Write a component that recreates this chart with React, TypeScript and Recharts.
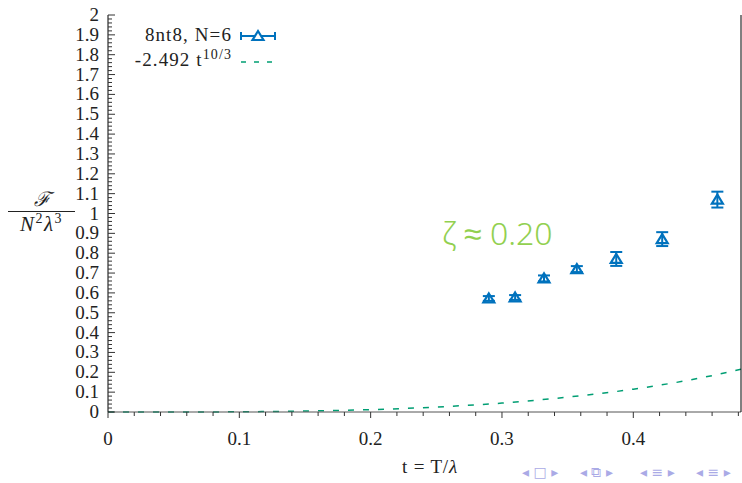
import React from "react";
import { ComposedChart, Scatter, Line, XAxis, YAxis, ErrorBar } from "recharts";

// measured points, 8nt8 N=6
const tValues = [0.29, 0.31, 0.332, 0.357, 0.387, 0.422, 0.464];
const fValues = [0.572, 0.577, 0.673, 0.72, 0.771, 0.871, 1.07];
const fErrors = [0.012, 0.012, 0.015, 0.015, 0.035, 0.035, 0.04];

// dashed fit curve
const tCurve = [0, 0.05, 0.1, 0.15, 0.2, 0.25, 0.3, 0.35, 0.4, 0.45, 0.482];
const fCurve = [0, 0, 0.001, 0.005, 0.012, 0.025, 0.045, 0.075, 0.115, 0.17, 0.215];

const BLUE = "#0072bd";
const GREEN = "#009e73";
const SERIF = "'Liberation Serif', 'DejaVu Serif', serif";

const steps = (max: number, step: number) => {
  const out: number[] = [];
  for (let i = 0; i * step <= max + 1e-9; i++) out.push(Math.round(i * step * 1000) / 1000);
  return out;
};
const xTicks = steps(0.48, 0.02);
const yTicks = steps(2, 0.02);

const isMajor = (v: number) => Math.abs(v * 10 - Math.round(v * 10)) < 1e-6;

const points = tValues.map((t, i) => ({ t, f: fValues[i], err: fErrors[i] }));
const curve = tCurve.map((t, i) => ({ t, f: fCurve[i] }));

const XTick = (props: any) => {
  const { x, y, payload } = props;
  const major = isMajor(payload.value);
  return (
    <g>
      <line x1={x} x2={x} y1={y} y2={y + (major ? 6 : 4)} stroke="#333" strokeWidth={1} />
      {major && (
        <text x={x} y={y + 33} textAnchor="middle" fontFamily={SERIF} fontSize={19} fill="#222">
          {Number(payload.value.toFixed(1)).toString()}
        </text>
      )}
    </g>
  );
};

const YTickLeft = (props: any) => {
  const { x, y, payload } = props;
  const major = isMajor(payload.value);
  return (
    <g>
      <line x1={x} x2={x + (major ? 7 : 4)} y1={y} y2={y} stroke="#333" strokeWidth={1} />
      {major && (
        <text x={x - 9} y={y + 6} textAnchor="end" fontFamily={SERIF} fontSize={19} fill="#222">
          {Number(payload.value.toFixed(1)).toString()}
        </text>
      )}
    </g>
  );
};

const YTickRight = (props: any) => {
  const { x, y, payload } = props;
  const major = isMajor(payload.value);
  return <line x1={x} x2={x - (major ? 7 : 4)} y1={y} y2={y} stroke="#333" strokeWidth={1} />;
};

const Triangle = (props: any) => {
  const { cx, cy } = props;
  return (
    <path
      d={`M${cx},${cy - 5} L${cx + 5.5},${cy + 4} L${cx - 5.5},${cy + 4} Z`}
      fill="none"
      stroke={BLUE}
      strokeWidth={2.2}
    />
  );
};

const navGroups = [
  { left: 522, text: "◂ □ ▸" },
  { left: 580, text: "◂ ⧉ ▸" },
  { left: 640, text: "◂ ≡ ▸" },
  { left: 696, text: "◂ ≡ ▸" },
];

const App = () => {
  return (
    <div style={{ position: "absolute", left: 0, top: 0, width: 742, height: 483, background: "#fff" }}>
      <ComposedChart width={742} height={483} margin={{ top: 15, right: 0, bottom: 0, left: 0 }}>
        <XAxis
          dataKey="t"
          type="number"
          domain={[0, 0.482]}
          ticks={xTicks}
          interval={0}
          height={71}
          tickSize={0}
          tickMargin={0}
          tick={<XTick />}
          axisLine={{ stroke: "#555" }}
          allowDataOverflow
        />
        <XAxis
          xAxisId="top"
          orientation="top"
          type="number"
          domain={[0, 0.482]}
          height={0}
          tick={false}
          tickLine={false}
          axisLine={{ stroke: "#000" }}
        />
        <YAxis
          yAxisId="l"
          type="number"
          domain={[0, 2]}
          ticks={yTicks}
          interval={0}
          width={108}
          tickSize={0}
          tickMargin={0}
          tick={<YTickLeft />}
          axisLine={{ stroke: "#000" }}
        />
        <YAxis
          yAxisId="r"
          orientation="right"
          type="number"
          domain={[0, 2]}
          ticks={yTicks}
          interval={0}
          width={1}
          tickSize={0}
          tickMargin={0}
          tick={<YTickRight />}
          axisLine={{ stroke: "#000" }}
        />
        <Line
          yAxisId="l"
          data={curve}
          dataKey="f"
          type="monotone"
          dot={false}
          stroke={GREEN}
          strokeWidth={1.5}
          strokeDasharray="6 9"
          isAnimationActive={false}
        />
        <Scatter yAxisId="l" data={points} dataKey="f" shape={<Triangle />} isAnimationActive={false}>
          <ErrorBar dataKey="err" direction="y" width={6} stroke={BLUE} strokeWidth={2} isAnimationActive={false} />
        </Scatter>
      </ComposedChart>

      {/* legend */}
      <div style={{ position: "absolute", left: 0, top: 22, width: 232, textAlign: "right", fontFamily: SERIF, fontSize: 19, letterSpacing: 1.1, color: "#222", lineHeight: "25px" }}>
        <div>8nt8, N=6</div>
        <div>
          -2.492 t<sup style={{ fontSize: 14, lineHeight: 0 }}>10/3</sup>
        </div>
      </div>
      <svg style={{ position: "absolute", left: 238, top: 26 }} width={40} height={44}>
        <line x1={3} x2={37} y1={10} y2={10} stroke={BLUE} strokeWidth={2} />
        <line x1={3} x2={3} y1={6} y2={14} stroke={BLUE} strokeWidth={2} />
        <line x1={37} x2={37} y1={6} y2={14} stroke={BLUE} strokeWidth={2} />
        <path d="M20,5 L25.5,14 L14.5,14 Z" fill="#fff" stroke={BLUE} strokeWidth={2.2} />
        <line x1={3} x2={37} y1={36} y2={36} stroke={GREEN} strokeWidth={1.5} strokeDasharray="5 8" />
      </svg>

      {/* y label */}
      <div style={{ position: "absolute", left: 8, top: 187, width: 67, textAlign: "center", fontFamily: SERIF, fontStyle: "italic", color: "#222" }}>
        <div style={{ height: 24, lineHeight: "24px", fontSize: 20 }}>ℱ</div>
        <div style={{ borderTop: "1px solid #222", paddingTop: 1, lineHeight: "23px", fontSize: 21, letterSpacing: 1.5 }}>
          N<sup style={{ fontSize: 14, lineHeight: 0, fontStyle: "normal" }}>2</sup>λ
          <sup style={{ fontSize: 14, lineHeight: 0, fontStyle: "normal" }}>3</sup>
        </div>
      </div>

      {/* x label */}
      <div style={{ position: "absolute", left: 330, top: 456, width: 200, textAlign: "center", fontFamily: SERIF, fontSize: 19, letterSpacing: 0.8, color: "#222" }}>
        t = T/<i>λ</i>
      </div>

      {/* annotation */}
      <div style={{ position: "absolute", left: 442, top: 211, fontFamily: "'Noto Sans', sans-serif", fontWeight: 300, fontSize: 32, color: "#92d050", whiteSpace: "nowrap" }}>
        ζ ≈ 0.20
      </div>

      {/* beamer navigation symbols */}
      {navGroups.map((g) => (
        <div key={g.left} style={{ position: "absolute", left: g.left, top: 464, fontFamily: "'DejaVu Sans', sans-serif", fontSize: 14, color: "#aaaae6", whiteSpace: "nowrap" }}>
          {g.text}
        </div>
      ))}
    </div>
  );
};

export default App;
